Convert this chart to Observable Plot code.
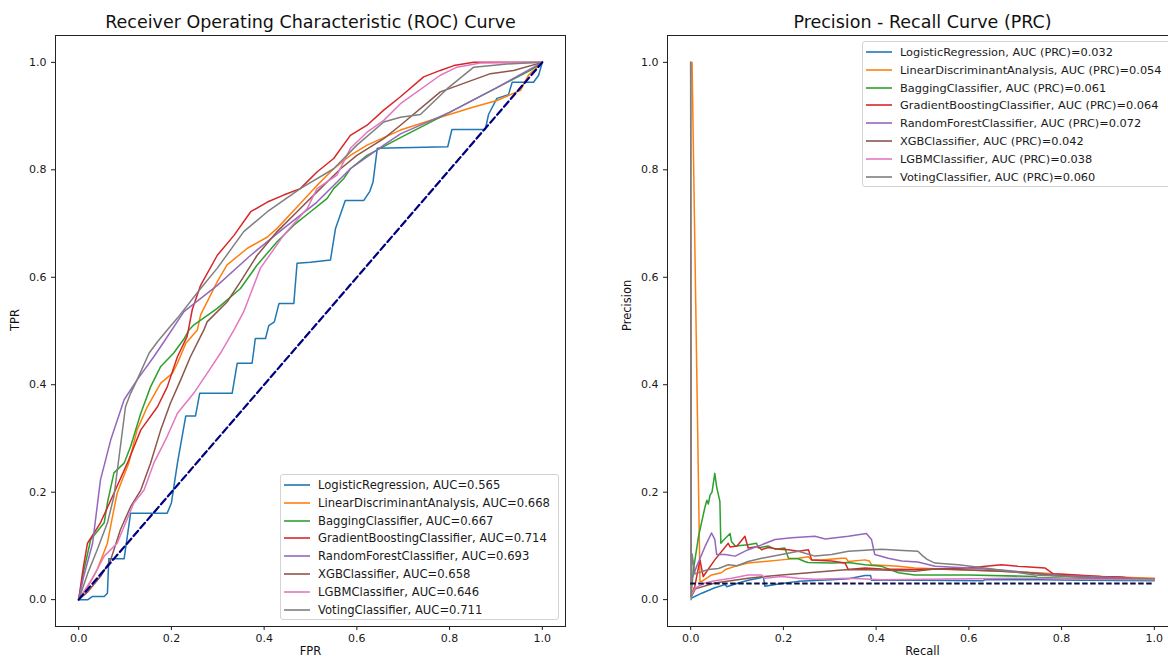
<!DOCTYPE html>
<html>
<head>
<meta charset="utf-8">
<script src="https://cdn.jsdelivr.net/npm/d3@7"></script>
<script src="https://cdn.jsdelivr.net/npm/@observablehq/plot@0.6"></script>
<style>
  html, body { margin: 0; padding: 0; background: #fff; }
  #wrap { position: relative; width: 1168px; height: 659px; overflow: hidden; font-family: "DejaVu Sans", sans-serif; }
  #wrap > .panel { position: absolute; top: 0; }
  .legend { position: absolute; background: rgba(255,255,255,0.85); border: 1px solid #d3d3d3; border-radius: 3px; box-sizing: border-box; padding-top: 1px; }
  .legend .row { display: flex; align-items: center; height: 17.85px; white-space: nowrap; font-size: 11.6px; color: #1a1a1a; }
  .legend.pr .row { font-size: 11.35px; }
  .legend svg { margin-left: 3px; margin-right: 8px; flex: none; }
</style>
</head>
<body>
<div id="wrap"></div>
<script>
// ---------- data ----------
const models = ["LogisticRegression", "LinearDiscriminantAnalysis", "BaggingClassifier", "GradientBoostingClassifier", "RandomForestClassifier", "XGBClassifier", "LGBMClassifier", "VotingClassifier"];
const rocAuc = ["0.565", "0.668", "0.667", "0.714", "0.693", "0.658", "0.646", "0.711"];
const prAuc  = ["0.032", "0.054", "0.061", "0.064", "0.072", "0.042", "0.038", "0.060"];
const colors = ["#1f77b4", "#ff7f0e", "#2ca02c", "#d62728", "#9467bd", "#8c564b", "#e377c2", "#7f7f7f"];
const axisTicks = [0, 0.2, 0.4, 0.6, 0.8, 1.0];
const chanceLine = [[0, 0], [1, 1]];
const prBaseline = 0.03;

// ROC curves: [FPR, TPR]
const rocLR = [[0,0],[0.02,0],[0.03,0.006],[0.055,0.006],[0.062,0.012],[0.065,0.076],[0.098,0.076],[0.112,0.161],[0.191,0.161],[0.2,0.18],[0.213,0.254],[0.231,0.342],[0.252,0.342],[0.261,0.384],[0.331,0.384],[0.342,0.44],[0.374,0.44],[0.381,0.486],[0.403,0.486],[0.41,0.51],[0.422,0.517],[0.432,0.551],[0.464,0.551],[0.471,0.626],[0.5,0.628],[0.543,0.632],[0.554,0.691],[0.575,0.743],[0.615,0.743],[0.628,0.76],[0.635,0.778],[0.644,0.84],[0.796,0.843],[0.805,0.875],[0.877,0.875],[0.884,0.903],[0.902,0.933],[0.927,0.94],[0.935,0.963],[0.981,0.963],[0.992,0.976],[1,1]];
const rocLDA = [[0,0],[0.02,0.025],[0.04,0.056],[0.062,0.105],[0.073,0.155],[0.083,0.198],[0.094,0.223],[0.108,0.254],[0.126,0.316],[0.148,0.359],[0.177,0.403],[0.202,0.421],[0.213,0.44],[0.231,0.477],[0.256,0.502],[0.263,0.53],[0.299,0.592],[0.32,0.623],[0.364,0.654],[0.407,0.675],[0.428,0.691],[0.471,0.731],[0.514,0.771],[0.55,0.802],[0.586,0.827],[0.622,0.846],[0.694,0.874],[0.78,0.898],[0.852,0.917],[0.902,0.929],[0.953,0.948],[0.97,0.976],[1,1]];
const rocBag = [[0,0],[0.01,0.05],[0.026,0.112],[0.055,0.143],[0.062,0.18],[0.076,0.236],[0.098,0.254],[0.112,0.285],[0.134,0.347],[0.155,0.396],[0.177,0.434],[0.205,0.459],[0.227,0.485],[0.238,0.502],[0.248,0.511],[0.299,0.542],[0.349,0.579],[0.385,0.623],[0.428,0.666],[0.464,0.697],[0.5,0.722],[0.536,0.747],[0.55,0.765],[0.572,0.784],[0.586,0.802],[0.622,0.827],[0.694,0.86],[0.78,0.898],[0.9,0.952],[0.974,0.985],[1,1]];
const rocGB = [[0,0],[0.01,0.06],[0.019,0.105],[0.047,0.143],[0.076,0.198],[0.105,0.254],[0.134,0.316],[0.17,0.359],[0.191,0.396],[0.213,0.452],[0.234,0.49],[0.245,0.54],[0.263,0.585],[0.299,0.641],[0.335,0.678],[0.371,0.722],[0.407,0.74],[0.442,0.753],[0.478,0.765],[0.514,0.796],[0.55,0.821],[0.586,0.864],[0.622,0.883],[0.658,0.911],[0.694,0.936],[0.744,0.973],[0.78,0.985],[0.809,0.994],[0.852,1],[1,1]];
const rocRF = [[0,0],[0.01,0.04],[0.03,0.105],[0.047,0.223],[0.069,0.297],[0.098,0.372],[0.126,0.409],[0.162,0.452],[0.184,0.48],[0.227,0.536],[0.299,0.585],[0.371,0.641],[0.442,0.691],[0.514,0.74],[0.586,0.802],[0.658,0.846],[0.694,0.867],[0.8,0.907],[0.9,0.952],[1,1]];
const rocXGB = [[0,0],[0.02,0.015],[0.047,0.043],[0.069,0.074],[0.09,0.13],[0.112,0.173],[0.134,0.204],[0.155,0.254],[0.177,0.316],[0.198,0.366],[0.22,0.409],[0.241,0.452],[0.27,0.502],[0.277,0.517],[0.32,0.554],[0.349,0.592],[0.385,0.641],[0.428,0.685],[0.471,0.722],[0.514,0.759],[0.565,0.802],[0.6,0.827],[0.658,0.858],[0.694,0.883],[0.78,0.945],[0.888,0.979],[0.938,0.985],[1,1]];
const rocLGBM = [[0,0],[0.03,0.04],[0.055,0.081],[0.083,0.105],[0.119,0.18],[0.141,0.204],[0.162,0.254],[0.191,0.304],[0.213,0.347],[0.248,0.384],[0.277,0.421],[0.306,0.459],[0.335,0.502],[0.356,0.536],[0.392,0.617],[0.442,0.678],[0.493,0.728],[0.514,0.765],[0.557,0.79],[0.586,0.84],[0.622,0.87],[0.658,0.892],[0.694,0.923],[0.78,0.976],[0.816,0.991],[0.866,0.999],[1,1]];
const rocVote = [[0,0],[0.02,0.05],[0.04,0.093],[0.062,0.143],[0.076,0.192],[0.09,0.285],[0.101,0.359],[0.112,0.384],[0.126,0.409],[0.152,0.459],[0.17,0.48],[0.191,0.502],[0.213,0.524],[0.263,0.579],[0.299,0.617],[0.356,0.685],[0.407,0.722],[0.478,0.765],[0.55,0.802],[0.6,0.846],[0.658,0.889],[0.694,0.898],[0.737,0.903],[0.795,0.951],[0.852,0.991],[0.924,0.997],[1,1]];

// PR curves: [Recall, Precision]
const prLR = [[0.002,0.003],[0.024,0.012],[0.052,0.022],[0.074,0.028],[0.078,0.024],[0.103,0.031],[0.124,0.036],[0.146,0.04],[0.157,0.042],[0.16,0.025],[0.196,0.03],[0.232,0.034],[0.304,0.037],[0.34,0.039],[0.376,0.045],[0.388,0.045],[0.39,0.036],[0.5,0.036],[0.63,0.035],[0.634,0.037],[0.75,0.037],[0.85,0.036],[1,0.035]];
const prLDA = [[0.003,1],[0.02,0.034],[0.024,0.034],[0.045,0.046],[0.066,0.05],[0.075,0.056],[0.096,0.062],[0.124,0.068],[0.16,0.071],[0.196,0.074],[0.232,0.077],[0.254,0.08],[0.26,0.074],[0.282,0.074],[0.325,0.077],[0.335,0.077],[0.34,0.071],[0.376,0.074],[0.385,0.072],[0.39,0.065],[0.448,0.062],[0.483,0.059],[0.6,0.055],[0.75,0.05],[0.85,0.044],[1,0.04]];
const prBag = [[0.002,0.02],[0.006,0.056],[0.017,0.118],[0.031,0.173],[0.035,0.185],[0.038,0.178],[0.042,0.195],[0.046,0.2],[0.052,0.235],[0.056,0.21],[0.063,0.183],[0.065,0.105],[0.07,0.11],[0.085,0.123],[0.088,0.108],[0.096,0.1],[0.124,0.102],[0.142,0.105],[0.146,0.096],[0.167,0.1],[0.182,0.094],[0.203,0.096],[0.211,0.077],[0.232,0.076],[0.246,0.071],[0.253,0.069],[0.304,0.068],[0.34,0.069],[0.376,0.065],[0.412,0.062],[0.448,0.05],[0.483,0.046],[0.6,0.046],[0.742,0.043],[0.75,0.041],[0.85,0.039],[1,0.037]];
const prGB = [[0.002,0.01],[0.009,0.025],[0.02,0.074],[0.027,0.043],[0.052,0.074],[0.081,0.105],[0.085,0.098],[0.1,0.1],[0.117,0.118],[0.124,0.096],[0.146,0.099],[0.153,0.093],[0.167,0.097],[0.189,0.094],[0.211,0.093],[0.232,0.09],[0.254,0.093],[0.261,0.074],[0.304,0.072],[0.333,0.068],[0.34,0.056],[0.376,0.059],[0.412,0.057],[0.483,0.056],[0.527,0.057],[0.598,0.059],[0.67,0.065],[0.706,0.062],[0.764,0.059],[0.782,0.048],[0.815,0.047],[0.886,0.043],[0.929,0.042],[0.957,0.039],[1,0.039]];
const prRF = [[0.002,0.037],[0.012,0.06],[0.031,0.099],[0.045,0.124],[0.052,0.112],[0.056,0.084],[0.074,0.084],[0.096,0.081],[0.124,0.093],[0.153,0.102],[0.182,0.112],[0.218,0.115],[0.268,0.118],[0.29,0.113],[0.34,0.118],[0.379,0.123],[0.39,0.112],[0.397,0.084],[0.426,0.077],[0.455,0.072],[0.49,0.07],[0.527,0.062],[0.598,0.059],[0.67,0.055],[0.8,0.045],[1,0.038]];
const prXGB = [[0,1],[0.001,0.005],[0.01,0.02],[0.052,0.031],[0.124,0.04],[0.196,0.046],[0.268,0.051],[0.34,0.056],[0.412,0.055],[0.483,0.053],[0.527,0.057],[0.598,0.055],[0.67,0.053],[0.73,0.05],[0.78,0.045],[0.886,0.04],[1,0.038]];
const prLGBM = [[0.002,0.01],[0.01,0.022],[0.031,0.031],[0.052,0.035],[0.088,0.04],[0.124,0.046],[0.153,0.046],[0.16,0.04],[0.196,0.043],[0.232,0.04],[0.268,0.038],[0.34,0.04],[0.412,0.037],[0.5,0.038],[0.75,0.04],[0.85,0.038],[1,0.037]];
const prVote = [[0,1],[0.001,0.0],[0.003,0.085],[0.009,0.048],[0.038,0.056],[0.06,0.058],[0.081,0.065],[0.1,0.063],[0.124,0.071],[0.153,0.077],[0.196,0.084],[0.232,0.09],[0.268,0.081],[0.304,0.084],[0.34,0.09],[0.376,0.092],[0.412,0.094],[0.448,0.092],[0.49,0.09],[0.501,0.081],[0.51,0.075],[0.527,0.068],[0.577,0.065],[0.634,0.059],[0.685,0.053],[0.742,0.046],[0.815,0.043],[0.886,0.04],[1,0.039]];

const rocCurves = [rocLR, rocLDA, rocBag, rocGB, rocRF, rocXGB, rocLGBM, rocVote];
const prCurves = [prLR, prLDA, prBag, prGB, prRF, prXGB, prLGBM, prVote];

// ---------- build ----------
const toRows = (curves) => curves.flatMap((c, i) => c.map(([x, y]) => ({model: models[i], x, y})));
const rocRows = toRows(rocCurves);
const prRows = toRows(prCurves);
const fmt = d3.format(".1f");

function panel({rows, title, xLabel, yLabel, refMark}) {
  return Plot.plot({
    width: 568,
    height: 659,
    marginTop: 35,
    marginBottom: 33,
    marginLeft: 55,
    marginRight: 3,
    x: {domain: [-0.05, 1.05]},
    y: {domain: [-0.05, 1.05]},
    color: {domain: models, range: colors},
    style: {fontFamily: "DejaVu Sans", fontSize: "11px", color: "#1a1a1a", background: "transparent", overflow: "visible"},
    marks: [
      Plot.axisX({ticks: axisTicks, tickFormat: fmt, tickSize: 4, tickPadding: 4, label: null, fontSize: 11}),
      Plot.axisY({ticks: axisTicks, tickFormat: fmt, tickSize: 4, tickPadding: 5, label: null, fontSize: 11}),
      Plot.line(rows, {x: "x", y: "y", z: "model", stroke: "model", strokeWidth: 1.5, strokeLinejoin: "round"}),
      refMark,
      Plot.frame({stroke: "#222", strokeWidth: 1}),
      Plot.text([title], {text: d => d, frameAnchor: "top", lineAnchor: "middle", dy: -13, fontSize: 17.5, fill: "#111"}),
      Plot.text([xLabel], {text: d => d, frameAnchor: "bottom", lineAnchor: "middle", dy: 25, fontSize: 11.5, fill: "#111"}),
      Plot.text([yLabel], {text: d => d, frameAnchor: "left", dx: -40, rotate: -90, fontSize: 11.5, fill: "#111"})
    ]
  });
}

const rocPlot = panel({
  rows: rocRows,
  title: "Receiver Operating Characteristic (ROC) Curve",
  xLabel: "FPR",
  yLabel: "TPR",
  refMark: Plot.line(chanceLine, {x: d => d[0], y: d => d[1], stroke: "#000080", strokeWidth: 2.2, strokeDasharray: "7,3.5"})
});
const prPlot = panel({
  rows: prRows,
  title: "Precision - Recall Curve (PRC)",
  xLabel: "Recall",
  yLabel: "Precision",
  refMark: Plot.ruleY([prBaseline], {x1: 0, x2: 1, stroke: "#0d0d45", strokeWidth: 1.8, strokeDasharray: "5.5,2.5"})
});

const wrap = document.getElementById("wrap");
rocPlot.classList.add("panel"); rocPlot.style.left = "0px";
prPlot.classList.add("panel"); prPlot.style.left = "612px";
wrap.appendChild(rocPlot);
wrap.appendChild(prPlot);

const svgNS = "http://www.w3.org/2000/svg";
function legend(left, top, width, labels, extraClass) {
  const box = document.createElement("div");
  box.className = "legend" + (extraClass ? " " + extraClass : "");
  box.style.left = left + "px";
  box.style.top = top + "px";
  box.style.width = width + "px";
  box.style.height = "146px";
  labels.forEach((lab, i) => {
    const row = document.createElement("div");
    row.className = "row";
    const sw = document.createElementNS(svgNS, "svg");
    sw.setAttribute("width", "26");
    sw.setAttribute("height", "6");
    const ln = document.createElementNS(svgNS, "line");
    ln.setAttribute("x1", "0"); ln.setAttribute("x2", "26");
    ln.setAttribute("y1", "3"); ln.setAttribute("y2", "3");
    ln.setAttribute("stroke", colors[i]);
    ln.setAttribute("stroke-width", "1.6");
    sw.appendChild(ln);
    const tx = document.createElement("span");
    tx.textContent = lab;
    row.appendChild(sw); row.appendChild(tx);
    box.appendChild(row);
  });
  wrap.appendChild(box);
}
legend(280, 474, 279, models.map((m, i) => `${m}, AUC=${rocAuc[i]}`));
legend(862, 41, 330, models.map((m, i) => `${m}, AUC (PRC)=${prAuc[i]}`), "pr");
</script>
</body>
</html>
